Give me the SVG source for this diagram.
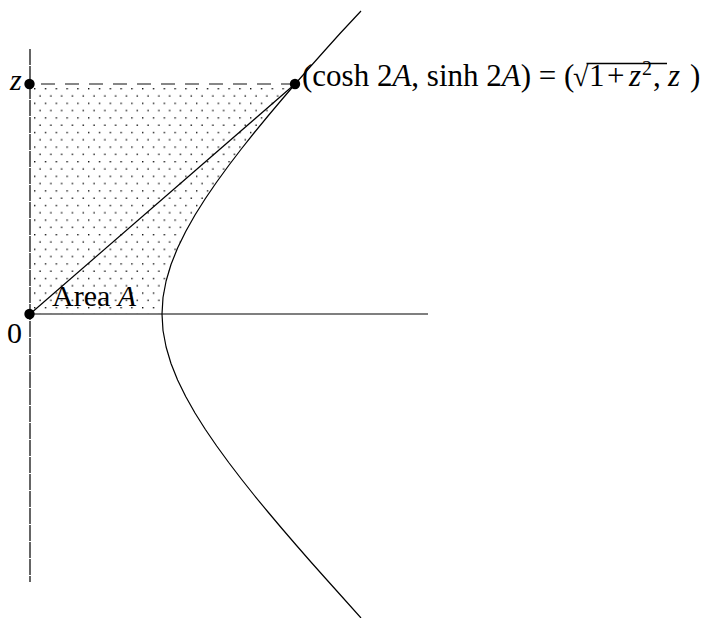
<svg xmlns="http://www.w3.org/2000/svg" width="704" height="618" viewBox="0 0 704 618">
<style>
.t{font-family:"Liberation Serif","Times New Roman",serif;font-size:30px;fill:#000}
.m{font-size:31px}
.i{font-style:italic}
.ln{fill:none;stroke:#000;stroke-width:1.2;stroke-linejoin:round}
.pt{fill:#000}
</style>
<defs>
<pattern id="dots" patternUnits="userSpaceOnUse" x="34" y="88" width="10.8" height="14.6">
<rect x="0" y="0" width="1.4" height="1.4" fill="#111"/>
<rect x="5.4" y="7.3" width="1.4" height="1.4" fill="#111"/>
</pattern>
</defs>
<g id="region">
<path d="M30,314 L162,314 L163.0,297.5 L166.1,281 L171.0,264.5 L177.6,248 L185.7,231.5 L195.0,215 L205.4,198.5 L216.7,182 L228.7,165.5 L241.3,149 L254.4,132.5 L268.0,116 L281.9,99.5 L295.2,84 L30,84 Z" fill="url(#dots)" stroke="none"/>
</g>
<g id="axes">
<line x1="30" y1="49" x2="30" y2="582" stroke="#4a4a4a" stroke-width="1.7" stroke-dasharray="16 1"/>
<line x1="30" y1="314" x2="428" y2="314" stroke="#000" stroke-width="1.2"/>
</g>
<g id="hyperbola">
<polyline class="ln" points="361,11 340.0,33.5 325.2,50 310.5,66.5 295.2,84 281.9,99.5 268.0,116 254.4,132.5 241.3,149 228.7,165.5 216.7,182 205.4,198.5 195.0,215 185.7,231.5 177.6,248 171.0,264.5 166.1,281 163.0,297.5 162,314 163.0,330.5 166.1,347 171.0,363.5 177.6,380 185.7,396.5 195.0,413 205.4,429.5 216.7,446 228.7,462.5 241.3,479 254.4,495.5 268.0,512 281.9,528.5 296.1,545 310.5,561.5 325.2,578 340.0,594.5 361,618"/>
</g>
<g id="connectors">
<line x1="30" y1="314" x2="295" y2="84" class="ln"/>
<line x1="41" y1="84" x2="295" y2="84" stroke="#111" stroke-width="1.1" stroke-dasharray="14 10"/>
</g>
<g id="origin"><circle class="pt" cx="29.5" cy="314" r="5.2"/><text class="t" x="7" y="343">0</text></g>
<g id="zpoint"><circle class="pt" cx="29.5" cy="84" r="5.2"/><text class="t i" x="10" y="90">z</text></g>
<g id="point">
<circle class="pt" cx="295" cy="84" r="5.2"/>
<text class="t m" y="86"><tspan x="302">(cosh 2</tspan><tspan class="i">A</tspan><tspan>, sinh 2</tspan><tspan class="i">A</tspan><tspan>) = (</tspan><tspan x="573" font-size="28">√</tspan><tspan x="589">1</tspan><tspan x="607">+</tspan><tspan x="629" class="i">z</tspan><tspan x="642" y="75" font-size="20">2</tspan><tspan x="653" y="86">,</tspan><tspan x="668" class="i">z</tspan><tspan x="690">)</tspan></text>
<line x1="586.5" y1="63.5" x2="667" y2="63.5" stroke="#000" stroke-width="1.3"/>
</g>
<g id="area"><text class="t" x="52" y="306">Area <tspan class="i">A</tspan></text></g>
</svg>
